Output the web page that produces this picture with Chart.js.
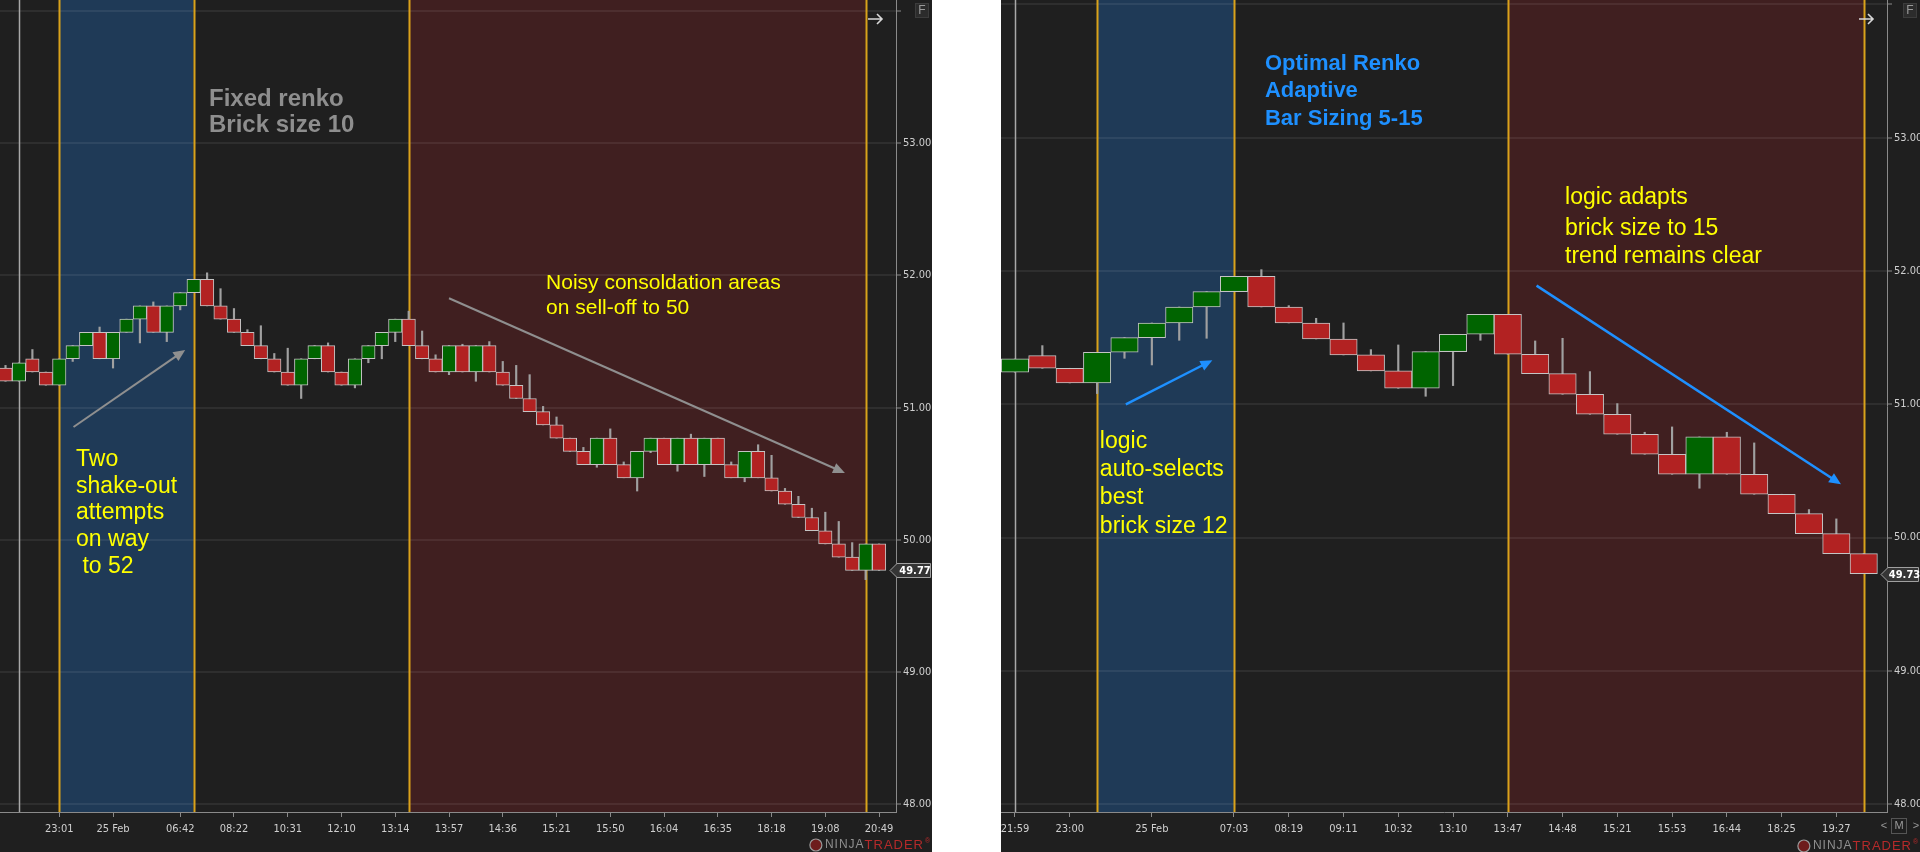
<!DOCTYPE html>
<html>
<head>
<meta charset="utf-8">
<title>Fixed vs Adaptive Renko</title>
<script src="https://cdn.jsdelivr.net/npm/chart.js@4.4.1/dist/chart.umd.min.js"></script>
<style>
  html, body { margin: 0; padding: 0; background: #ffffff; }
  body { width: 1920px; height: 852px; position: relative; overflow: hidden; }
  .panel { position: absolute; top: 0; height: 852px; background: #1f1f1f; }
  #leftPanel { left: 0; width: 932px; }
  #rightPanel { left: 1001px; width: 919px; }
</style>
</head>
<body>
<div class="panel" id="leftPanel"><canvas id="chartFixed" width="932" height="852"></canvas></div>
<div class="panel" id="rightPanel"><canvas id="chartAdaptive" width="919" height="852"></canvas></div>
<script>
// ---- Fixed renko, brick size 10 (left) ----
const fixedOpen = [51.30, 51.20, 51.37, 51.27, 51.17, 51.37, 51.47, 51.57, 51.37, 51.57,
  51.67, 51.77, 51.57, 51.77, 51.87, 51.97, 51.77, 51.67, 51.57, 51.47,
  51.37, 51.27, 51.17, 51.37, 51.47, 51.27, 51.17, 51.37, 51.47, 51.57,
  51.67, 51.47, 51.37, 51.27, 51.47, 51.27, 51.47, 51.27, 51.17, 51.07,
  50.97, 50.87, 50.77, 50.67, 50.57, 50.77, 50.57, 50.47, 50.67, 50.77,
  50.57, 50.77, 50.57, 50.77, 50.57, 50.47, 50.67, 50.47, 50.37, 50.27,
  50.17, 50.07, 49.97, 49.87, 49.77, 49.97];
const fixedClose = [51.20, 51.34, 51.27, 51.17, 51.37, 51.47, 51.57, 51.37, 51.57, 51.67,
  51.77, 51.57, 51.77, 51.87, 51.97, 51.77, 51.67, 51.57, 51.47, 51.37,
  51.27, 51.17, 51.37, 51.47, 51.27, 51.17, 51.37, 51.47, 51.57, 51.67,
  51.47, 51.37, 51.27, 51.47, 51.27, 51.47, 51.27, 51.17, 51.07, 50.97,
  50.87, 50.77, 50.67, 50.57, 50.77, 50.57, 50.47, 50.67, 50.77, 50.57,
  50.77, 50.57, 50.77, 50.57, 50.47, 50.67, 50.47, 50.37, 50.27, 50.17,
  50.07, 49.97, 49.87, 49.77, 49.97, 49.77];
const fixedHigh = [51.32, 51.34, 51.44, 51.27, 51.37, 51.47, 51.57, 51.61, 51.57, 51.67,
  51.77, 51.80, 51.77, 51.87, 51.97, 52.02, 51.90, 51.75, 51.59, 51.62,
  51.41, 51.45, 51.37, 51.47, 51.49, 51.27, 51.37, 51.47, 51.57, 51.67,
  51.73, 51.58, 51.40, 51.47, 51.48, 51.47, 51.50, 51.35, 51.32, 51.25,
  51.01, 50.93, 50.77, 50.70, 50.77, 50.84, 50.59, 50.67, 50.77, 50.77,
  50.77, 50.80, 50.77, 50.77, 50.59, 50.67, 50.72, 50.64, 50.39, 50.33,
  50.24, 50.21, 50.14, 49.98, 49.97, 49.97];
const fixedLow = [51.20, 51.20, 51.27, 51.17, 51.17, 51.35, 51.47, 51.37, 51.30, 51.57,
  51.49, 51.57, 51.50, 51.74, 51.87, 51.77, 51.67, 51.57, 51.47, 51.37,
  51.27, 51.17, 51.07, 51.37, 51.27, 51.17, 51.15, 51.34, 51.37, 51.50,
  51.47, 51.37, 51.27, 51.25, 51.27, 51.20, 51.27, 51.17, 51.07, 50.97,
  50.87, 50.77, 50.67, 50.57, 50.55, 50.57, 50.47, 50.37, 50.66, 50.57,
  50.52, 50.57, 50.48, 50.57, 50.47, 50.44, 50.47, 50.37, 50.27, 50.17,
  50.07, 49.97, 49.87, 49.77, 49.70, 49.77];
const fixedTickIdx = [4, 8, 13, 17, 21, 25, 29, 33, 37, 41, 45, 49, 53, 57, 61, 65];
const fixedTickLabels = ['23:01', '25 Feb', '06:42', '08:22', '10:31', '12:10', '13:14', '13:57',
  '14:36', '15:21', '15:50', '16:04', '16:35', '18:18', '19:08', '20:49'];

// ---- Optimal renko, adaptive bar sizing 5-15 (right) ----
const adaptiveOpen = [51.24, 51.365, 51.27, 51.16, 51.39, 51.50, 51.61, 51.73, 51.845, 51.96,
  51.73, 51.61, 51.49, 51.37, 51.25, 51.12, 51.395, 51.525, 51.675, 51.375,
  51.23, 51.075, 50.925, 50.775, 50.625, 50.475, 50.755, 50.475, 50.325, 50.18,
  50.03, 49.88];
const adaptiveClose = [51.34, 51.27, 51.16, 51.39, 51.50, 51.61, 51.73, 51.845, 51.96, 51.73,
  51.61, 51.49, 51.37, 51.25, 51.12, 51.395, 51.525, 51.675, 51.375, 51.23,
  51.075, 50.925, 50.775, 50.625, 50.475, 50.755, 50.475, 50.325, 50.18, 50.03,
  49.88, 49.73];
const adaptiveHigh = [51.34, 51.44, 51.27, 51.39, 51.50, 51.61, 51.73, 51.845, 51.96, 52.01,
  51.74, 51.645, 51.61, 51.41, 51.445, 51.395, 51.525, 51.675, 51.675, 51.475,
  51.495, 51.245, 51.005, 50.79, 50.83, 50.755, 50.79, 50.71, 50.325, 50.21,
  50.14, 49.88];
const adaptiveLow = [51.24, 51.27, 51.16, 51.08, 51.345, 51.295, 51.48, 51.495, 51.845, 51.73,
  51.61, 51.49, 51.37, 51.25, 51.12, 51.06, 51.14, 51.48, 51.375, 51.23,
  51.075, 50.925, 50.775, 50.625, 50.475, 50.37, 50.475, 50.325, 50.18, 50.03,
  49.88, 49.73];
const adaptiveTickIdx = [0, 2, 5, 8, 10, 12, 14, 16, 18, 20, 22, 24, 26, 28, 30];
const adaptiveTickLabels = ['21:59', '23:00', '25 Feb', '07:03', '08:19', '09:11', '10:32', '13:10',
  '13:47', '14:48', '15:21', '15:53', '16:44', '18:25', '19:27'];

const priceTicks = [48, 49, 50, 51, 52, 53, 54];

const AXIS_FONT = '"Liberation Sans Narrow", "DejaVu Sans Condensed", "Liberation Sans", sans-serif';
const NOTE_FONT = '"Liberation Sans", Arial, sans-serif';
const UP = '#006400';
const DOWN = '#b22222';
const YELLOW = '#ffff00';

function drawArrow(ctx, x0, y0, x1, y1, color, width) {
  const ang = Math.atan2(y1 - y0, x1 - x0);
  const head = 13;
  ctx.strokeStyle = color;
  ctx.fillStyle = color;
  ctx.lineWidth = width;
  ctx.beginPath();
  ctx.moveTo(x0, y0);
  ctx.lineTo(x1 - Math.cos(ang) * head * 0.8, y1 - Math.sin(ang) * head * 0.8);
  ctx.stroke();
  ctx.beginPath();
  ctx.moveTo(x1, y1);
  ctx.lineTo(x1 - head * Math.cos(ang - 0.42), y1 - head * Math.sin(ang - 0.42));
  ctx.lineTo(x1 - head * Math.cos(ang + 0.42), y1 - head * Math.sin(ang + 0.42));
  ctx.closePath();
  ctx.fill();
}

function drawLogo(ctx, right, y) {
  ctx.save();
  ctx.textAlign = 'left';
  ctx.textBaseline = 'middle';
  ctx.letterSpacing = '1px';
  ctx.font = '12px ' + NOTE_FONT;
  const wNinja = ctx.measureText('NINJA').width;
  ctx.font = '13px ' + NOTE_FONT;
  const wTrader = ctx.measureText('TRADER').width;
  const x = right - 8 - wTrader - wNinja;
  ctx.font = '12px ' + NOTE_FONT;
  ctx.fillStyle = '#8f8f8f';
  ctx.fillText('NINJA', x, y);
  ctx.font = '13px ' + NOTE_FONT;
  ctx.fillStyle = '#b52a2a';
  ctx.fillText('TRADER', x + wNinja, y);
  ctx.letterSpacing = '0px';
  ctx.font = '7px ' + NOTE_FONT;
  ctx.fillText('\u00ae', right - 7, y - 4);
  ctx.beginPath();
  ctx.arc(x - 9, y, 6, 0, Math.PI * 2);
  ctx.fillStyle = '#6e1c1c';
  ctx.fill();
  ctx.strokeStyle = '#9a9a9a';
  ctx.lineWidth = 1.2;
  ctx.stroke();
  ctx.restore();
}

function makeDecor(cfg) {
  return {
    id: 'renkoDecor',
    beforeDraw(chart) {
      const { ctx, chartArea: a, scales: { x } } = chart;
      ctx.save();
      ctx.fillStyle = '#1f1f1f';
      ctx.fillRect(0, 0, chart.width, chart.height);
      cfg.bands.forEach(b => {
        const x0 = x.getPixelForValue(b.from);
        const x1 = x.getPixelForValue(b.to);
        ctx.fillStyle = b.color;
        ctx.fillRect(x0, a.top, x1 - x0, a.bottom - a.top);
      });
      ctx.restore();
    },
    beforeDatasetsDraw(chart) {
      const { ctx, chartArea: a, scales: { x } } = chart;
      ctx.save();
      cfg.vlines.forEach(v => {
        const px = Math.round(x.getPixelForValue(v.at)) + 0.5;
        ctx.strokeStyle = v.color;
        ctx.lineWidth = v.width;
        ctx.beginPath();
        ctx.moveTo(px, a.top);
        ctx.lineTo(px, a.bottom);
        ctx.stroke();
      });
      ctx.restore();
    },
    afterDatasetsDraw(chart) {
      const { ctx, scales: { x, y } } = chart;
      ctx.save();
      cfg.notes.forEach(n => {
        ctx.font = n.font;
        ctx.fillStyle = n.color;
        ctx.textBaseline = 'middle';
        ctx.textAlign = 'left';
        n.lines.forEach((t, i) => {
          ctx.fillText(t, x.getPixelForValue(n.x), y.getPixelForValue(n.y[i]));
        });
      });
      cfg.arrows.forEach(ar => {
        drawArrow(ctx,
          x.getPixelForValue(ar.from[0]), y.getPixelForValue(ar.from[1]),
          x.getPixelForValue(ar.to[0]), y.getPixelForValue(ar.to[1]),
          ar.color, ar.width);
      });
      ctx.restore();
    },
    afterDraw(chart) {
      const { ctx, chartArea: a, scales: { y } } = chart;
      const W = chart.width;
      ctx.save();
      // last price tag
      const py = Math.round(y.getPixelForValue(cfg.last)) + 0.5;
      ctx.beginPath();
      ctx.moveTo(a.right - 6, py);
      ctx.lineTo(a.right + 1, py - 7);
      ctx.lineTo(W - 1.5, py - 7);
      ctx.lineTo(W - 1.5, py + 7);
      ctx.lineTo(a.right + 1, py + 7);
      ctx.closePath();
      ctx.fillStyle = '#353535';
      ctx.fill();
      ctx.strokeStyle = '#a0a0a0';
      ctx.lineWidth = 1;
      ctx.stroke();
      ctx.fillStyle = '#ffffff';
      ctx.font = 'bold 11px ' + AXIS_FONT;
      ctx.textBaseline = 'middle';
      ctx.textAlign = 'center';
      ctx.fillText(cfg.last.toFixed(2), (a.right + W) / 2 + 1, py + 0.5);
      // scroll arrow at top right of plot
      ctx.strokeStyle = '#d8d8d8';
      ctx.lineWidth = 1.6;
      ctx.beginPath();
      ctx.moveTo(a.right - 28, 19);
      ctx.lineTo(a.right - 14, 19);
      ctx.moveTo(a.right - 19, 14);
      ctx.lineTo(a.right - 14, 19);
      ctx.lineTo(a.right - 19, 24);
      ctx.stroke();
      // "F" box
      ctx.fillStyle = '#2c2c2c';
      ctx.fillRect(W - 17, 3, 14, 15);
      ctx.strokeStyle = '#3c3c3c';
      ctx.lineWidth = 1;
      ctx.strokeRect(W - 16.5, 3.5, 13, 14);
      ctx.fillStyle = '#9a9a9a';
      ctx.font = '12px ' + NOTE_FONT;
      ctx.fillText('F', W - 10, 11);
      if (cfg.navBox) {
        ctx.font = '11px ' + NOTE_FONT;
        ctx.fillStyle = '#9a9a9a';
        ctx.fillText('<', W - 36, 826);
        ctx.fillText('>', W - 4, 826);
        ctx.strokeStyle = '#555555';
        ctx.strokeRect(W - 28.5, 818.5, 15, 15);
        ctx.fillText('M', W - 21, 826);
      }
      drawLogo(ctx, W, cfg.logoY);
      ctx.restore();
    }
  };
}

function buildChart(canvasId, d) {
  const bodies = d.open.map((o, i) => ({ x: i, y: [o, d.close[i]] }));
  const wicks = d.open.map((o, i) => ({ x: i, y: [d.low[i], d.high[i]] }));
  const colors = d.open.map((o, i) => (d.close[i] >= o ? UP : DOWN));

  return new Chart(document.getElementById(canvasId), {
    type: 'bar',
    data: {
      datasets: [
        {
          data: wicks,
          backgroundColor: '#a0a0a0',
          borderWidth: 0,
          barThickness: 1.5,
          grouped: false,
          order: 2
        },
        {
          data: bodies,
          backgroundColor: colors,
          borderColor: '#c4c4c4',
          borderWidth: 1,
          borderSkipped: false,
          barPercentage: 1,
          categoryPercentage: 1,
          grouped: false,
          order: 1
        }
      ]
    },
    options: {
      responsive: false,
      animation: false,
      events: [],
      layout: { padding: 0 },
      plugins: { legend: { display: false }, tooltip: { enabled: false } },
      scales: {
        x: {
          type: 'linear',
          min: d.xRange[0],
          max: d.xRange[1],
          offset: false,
          afterFit: s => { s.height = 40; s.paddingLeft = 0; s.paddingRight = 0; },
          afterBuildTicks: s => { s.ticks = d.tickIdx.map(v => ({ value: v })); },
          ticks: {
            autoSkip: false,
            maxRotation: 0,
            color: '#cfcfcf',
            padding: 6,
            font: { family: AXIS_FONT, size: 11 },
            callback: (v, i) => d.tickLabels[i]
          },
          grid: { offset: false, drawOnChartArea: false, drawTicks: true, tickLength: 5, color: '#8a8a8a' },
          border: { display: true, color: '#8a8a8a', width: 1 }
        },
        y: {
          position: 'right',
          min: d.yRange[0],
          max: d.yRange[1],
          afterFit: s => { s.width = d.axisWidth; s.paddingTop = 0; s.paddingBottom = 0; },
          afterBuildTicks: s => { s.ticks = priceTicks.map(v => ({ value: v })); },
          ticks: {
            color: '#cfcfcf',
            padding: 2,
            font: { family: AXIS_FONT, size: 11 },
            callback: v => (v === 54 ? '' : v.toFixed(2))
          },
          grid: {
            color: 'rgba(255,255,255,0.07)',
            lineWidth: 2,
            tickLength: 5,
            tickColor: '#8a8a8a',
            tickWidth: 1
          },
          border: { display: true, color: '#8a8a8a', width: 1 }
        }
      }
    },
    plugins: [makeDecor(d.decor)]
  });
}

buildChart('chartFixed', {
  open: fixedOpen, close: fixedClose, high: fixedHigh, low: fixedLow,
  tickIdx: fixedTickIdx, tickLabels: fixedTickLabels,
  xRange: [-0.41, 66.26], yRange: [47.943, 54.083], axisWidth: 36,
  decor: {
    last: fixedClose[fixedClose.length - 1],
    logoY: 845,
    navBox: false,
    bands: [
      { from: 4, to: 14, color: '#1f3a57' },
      { from: 30, to: 64, color: '#401f20' }
    ],
    vlines: [
      { at: 1, color: '#a8a8a8', width: 1.5 },
      { at: 4, color: '#d9a21b', width: 2 },
      { at: 14, color: '#d9a21b', width: 2 },
      { at: 30, color: '#d9a21b', width: 2 },
      { at: 64, color: '#d9a21b', width: 2 }
    ],
    notes: [
      { lines: ['Fixed renko', 'Brick size 10'], x: 15.14, y: [53.335, 53.138], color: '#8e8e8e', font: 'bold 24px ' + NOTE_FONT },
      { lines: ['Noisy consoldation areas', 'on sell-off to 50'], x: 40.22, y: [51.943, 51.754], color: YELLOW, font: '21px ' + NOTE_FONT },
      { lines: ['Two', 'shake-out', 'attempts', 'on way', ' to 52'], x: 5.25, y: [50.605, 50.40, 50.203, 50.0, 49.80], color: YELLOW, font: '23px ' + NOTE_FONT }
    ],
    arrows: [
      { from: [5.06, 50.854], to: [13.37, 51.437], color: '#8f8f8f', width: 2 },
      { from: [33.0, 51.828], to: [62.46, 50.507], color: '#8f8f8f', width: 2 }
    ]
  }
});

buildChart('chartAdaptive', {
  open: adaptiveOpen, close: adaptiveClose, high: adaptiveHigh, low: adaptiveLow,
  tickIdx: adaptiveTickIdx, tickLabels: adaptiveTickLabels,
  xRange: [-0.51, 31.85], yRange: [47.941, 54.033], axisWidth: 33,
  decor: {
    last: adaptiveClose[adaptiveClose.length - 1],
    logoY: 846,
    navBox: true,
    bands: [
      { from: 3, to: 8, color: '#1f3a57' },
      { from: 18, to: 31, color: '#401f20' }
    ],
    vlines: [
      { at: 0, color: '#a8a8a8', width: 1.5 },
      { at: 3, color: '#d9a21b', width: 2 },
      { at: 8, color: '#d9a21b', width: 2 },
      { at: 18, color: '#d9a21b', width: 2 },
      { at: 31, color: '#d9a21b', width: 2 }
    ],
    notes: [
      { lines: ['Optimal Renko', 'Adaptive', 'Bar Sizing 5-15'], x: 9.13, y: [53.553, 53.35, 53.14], color: '#1e90ff', font: 'bold 22px ' + NOTE_FONT },
      { lines: ['logic adapts', 'brick size to 15', 'trend remains clear'], x: 20.09, y: [52.55, 52.32, 52.11], color: YELLOW, font: '23px ' + NOTE_FONT },
      { lines: ['logic', 'auto-selects', 'best', 'brick size 12'], x: 3.1, y: [50.717, 50.507, 50.297, 50.08], color: YELLOW, font: '23px ' + NOTE_FONT }
    ],
    arrows: [
      { from: [4.05, 51.0], to: [7.21, 51.33], color: '#1e90ff', width: 2.5 },
      { from: [19.05, 51.89], to: [30.17, 50.40], color: '#1e90ff', width: 2.5 }
    ]
  }
});
</script>
</body>
</html>
